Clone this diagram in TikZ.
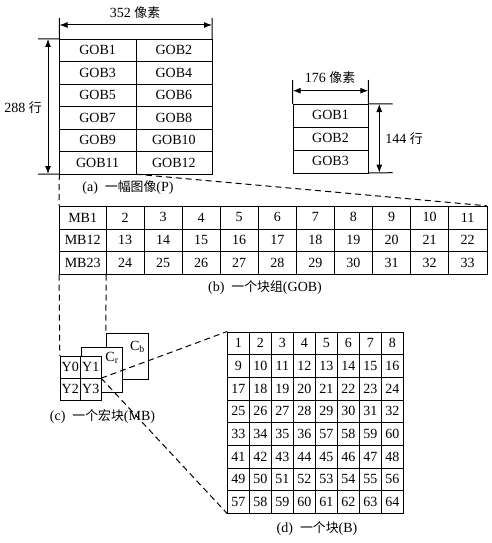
\documentclass[tikz,border=0pt]{standalone}
\usepackage{fontspec}
\setmainfont{Liberation Serif}
\newfontfamily\cjk[Scale=0.92]{Noto Sans CJK SC}
\usetikzlibrary{arrows.meta}
\pgfdeclarelayer{edgelayer}
\pgfdeclarelayer{nodelayer}
\pgfsetlayers{edgelayer,nodelayer,main}
\tikzstyle{none}=[inner sep=0pt]
\tikzstyle{gobcell}=[draw=black, fill=white, inner sep=0pt, minimum width=76.25pt, minimum height=22.5pt]
\tikzstyle{smallcell}=[draw=black, fill=white, inner sep=0pt, minimum width=75.6pt, minimum height=22.9pt]
\tikzstyle{mbcell}=[draw=black, fill=white, inner sep=0pt, minimum width=38.07pt, minimum height=22.77pt]
\tikzstyle{firstcell}=[mbcell, minimum width=46.7pt]
\tikzstyle{pixcell}=[draw=black, fill=white, inner sep=0pt, minimum width=22pt, minimum height=22.7pt]
\tikzstyle{ycell}=[draw=black, fill=white, inner sep=0pt, minimum width=20.5pt, minimum height=22pt]
\tikzstyle{chroma}=[draw=black, fill=white, inner sep=0pt]
\tikzstyle{guide}=[draw=black, line width=1pt]
\tikzstyle{dim}=[draw=black, line width=1pt, {Latex[length=8pt,width=6pt]}-{Latex[length=8pt,width=6pt]}]
\tikzstyle{zoomline}=[draw=black, line width=1pt, dash pattern=on 6pt off 4pt]

\begin{document}
\begin{tikzpicture}[x=1pt, y=-1pt, line width=1.2pt, font=\fontsize{14}{16}\selectfont]
\useasboundingbox (0,0) rectangle (492,543);
			\begin{pgfonlayer}{nodelayer}
			% (a) picture
			\node [style=gobcell] (p1) at (97.6, 50.25) {GOB1};
			\node [style=gobcell] (p2) at (173.9, 50.25) {GOB2};
			\node [style=gobcell] (p3) at (97.6, 72.75) {GOB3};
			\node [style=gobcell] (p4) at (173.9, 72.75) {GOB4};
			\node [style=gobcell] (p5) at (97.6, 95.25) {GOB5};
			\node [style=gobcell] (p6) at (173.9, 95.25) {GOB6};
			\node [style=gobcell] (p7) at (97.6, 117.75) {GOB7};
			\node [style=gobcell] (p8) at (173.9, 117.75) {GOB8};
			\node [style=gobcell] (p9) at (97.6, 140.25) {GOB9};
			\node [style=gobcell] (p10) at (173.9, 140.25) {GOB10};
			\node [style=gobcell] (p11) at (97.6, 162.75) {GOB11};
			\node [style=gobcell] (p12) at (173.9, 162.75) {GOB12};
			\node [style=none] (pw) at (135, 13) {352 {\cjk 像素}};
			\node [style=none] (ph) at (23, 108) {288 {\cjk 行}};
			\node [style=none] (capa) at (128, 188) {(a)\hspace{0.5em}{\cjk 一幅图像}(P)};
			\node [style=smallcell] (q1) at (330.5, 115.4) {GOB1};
			\node [style=smallcell] (q2) at (330.5, 138.3) {GOB2};
			\node [style=smallcell] (q3) at (330.5, 161.3) {GOB3};
			\node [style=none] (qw) at (330, 78) {176 {\cjk 像素}};
			\node [style=none] (qh) at (404, 138.3) {144 {\cjk 行}};
			% (b) group of blocks
			\node [style=firstcell] (mb1) at (82.65, 217.4) {MB1};
			\node [style=firstcell] (mb12) at (82.65, 240.17) {MB12};
			\node [style=firstcell] (mb23) at (82.65, 262.94) {MB23};
			\foreach \r in {0,1,2}
				\foreach \c in {1,...,10} {
					\pgfmathtruncatemacro{\n}{11*\r+\c+1}
					\node [style=mbcell] (gob-\r-\c) at ({125.03+38.07*(\c-1)}, {217.4+22.77*\r}) {\n};
				}
			\node [style=none] (capb) at (265, 288) {(b)\hspace{0.5em}{\cjk 一个块组}(GOB)};
			% (c) macroblock
			\node [style=chroma, minimum width=41.7pt, minimum height=45.4pt] (cb) at (126.85, 356) {};
			\node [style=chroma, minimum width=41.3pt, minimum height=44.4pt] (cr) at (101.35, 369.5) {};
			\node [style=none] (cbl) at (137.5, 347) {C\textsubscript{b}};
			\node [style=none] (crl) at (112, 358) {C\textsubscript{r}};
			\node [style=ycell] (y0) at (70.25, 367) {Y0};
			\node [style=ycell] (y1) at (90.75, 367) {Y1};
			\node [style=ycell] (y2) at (70.25, 389) {Y2};
			\node [style=ycell] (y3) at (90.75, 389) {Y3};
			\node [style=none] (capc) at (102.5, 417) {(c)\hspace{0.5em}{\cjk 一个宏块}(MB)};
			% (d) block
			\foreach \row [count=\r] in {{1,2,3,4,5,6,7,8},{9,10,11,12,13,14,15,16},{17,18,19,20,21,22,23,24},{25,26,27,28,29,30,31,32},{33,34,35,36,57,58,59,60},{41,42,43,44,45,46,47,48},{49,50,51,52,53,54,55,56},{57,58,59,60,61,62,63,64}}
				\foreach \v [count=\c] in \row
					\node [style=pixcell] (blk-\r-\c) at ({238.3+22*(\c-1)}, {343.05+22.7*(\r-1)}) {\v};
			\node [style=none] (capd) at (317, 529) {(d)\hspace{0.5em}{\cjk 一个块}(B)};
			\end{pgfonlayer}
			\begin{pgfonlayer}{edgelayer}
			\coordinate (pw-l) at (59.5, 18);
			\coordinate (pw-r) at (212, 18);
			\coordinate (pw-a) at (59.5, 25);
			\coordinate (pw-b) at (212, 25);
			\coordinate (ph-t) at (38, 39);
			\coordinate (ph-b) at (38, 174);
			\coordinate (ph-a) at (48, 39);
			\coordinate (ph-b2) at (48, 174);
			\coordinate (qw-l) at (292.7, 80);
			\coordinate (qw-r) at (368.3, 80);
			\coordinate (qw-a) at (292.7, 90.7);
			\coordinate (qw-b) at (368.3, 90.7);
			\coordinate (qh-t) at (392.7, 104);
			\coordinate (qh-b) at (392.7, 172.7);
			\coordinate (qh-a) at (379.3, 104);
			\coordinate (qh-b2) at (379.3, 172.7);
			\draw [style=guide] (p1.north west) to (pw-l);
			\draw [style=guide] (p2.north east) to (pw-r);
			\draw [style=dim] (pw-a) to (pw-b);
			\draw [style=guide] (p1.north west) to (ph-t);
			\draw [style=guide] (p11.south west) to (ph-b);
			\draw [style=dim] (ph-a) to (ph-b2);
			\draw [style=guide] (q1.north west) to (qw-l);
			\draw [style=guide] (q1.north east) to (qw-r);
			\draw [style=dim] (qw-a) to (qw-b);
			\draw [style=guide] (q1.north east) to (qh-t);
			\draw [style=guide] (q3.south east) to (qh-b);
			\draw [style=dim] (qh-a) to (qh-b2);
			\end{pgfonlayer}
			\draw [style=zoomline] (p11.south east) to (gob-0-10.north east);
			\draw [style=zoomline] (p11.south west) to (mb1.north west);
			\draw [style=zoomline] (mb23.south west) to (y0.north west);
			\draw [style=zoomline] (mb23.south east) to (cb.north west);
			\draw [style=zoomline] (y1.south east) to (blk-1-1.north west);
			\draw [style=zoomline] (y1.south east) to (blk-8-1.south west);
\end{tikzpicture}
\end{document}
